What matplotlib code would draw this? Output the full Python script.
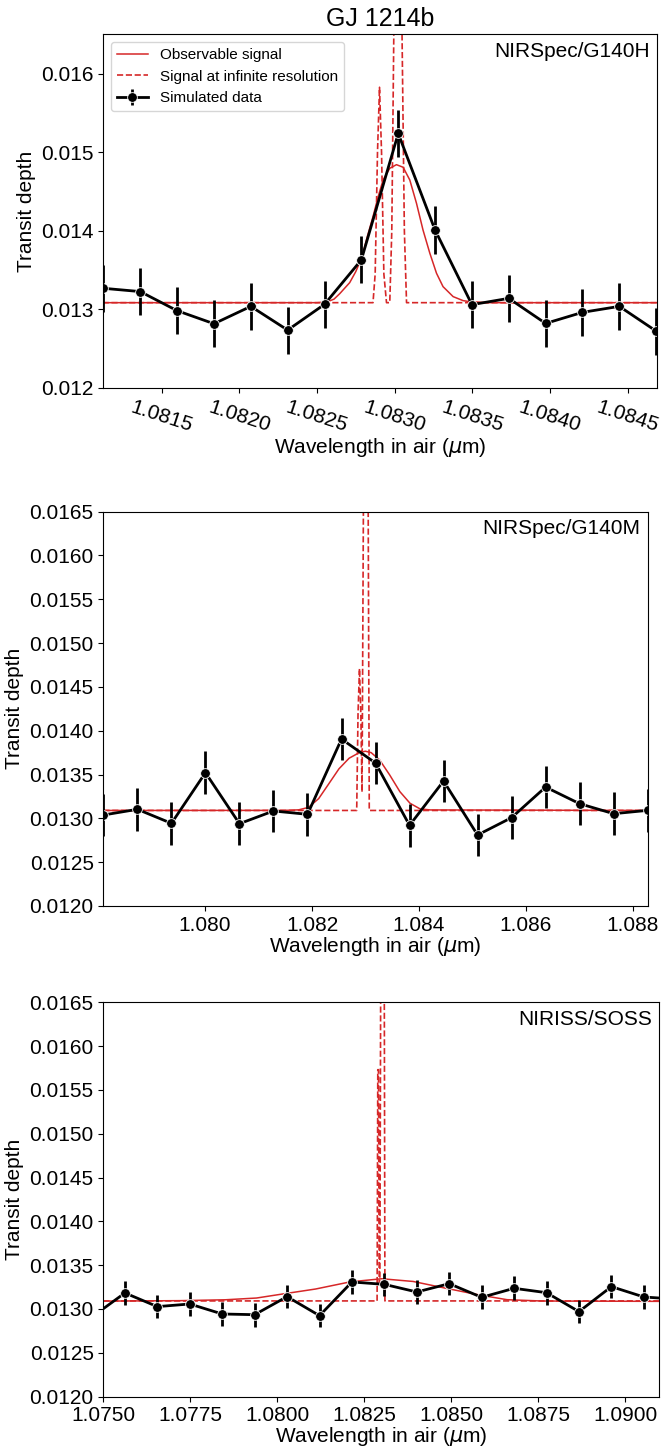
import matplotlib
matplotlib.use("Agg")
from matplotlib import pyplot as plt
from matplotlib.ticker import FormatStrFormatter
import numpy as np

plt.rcParams['font.family'] = ['Liberation Sans', 'DejaVu Sans']
plt.rcParams['mathtext.fontset'] = 'dejavusans'

# ---- NIRSpec/G140H ----
wl_h = 1.081125 + 0.0002373 * np.arange(16)
td_h = [0.013268, 0.013226, 0.012983, 0.012817, 0.013038, 0.012736, 0.013064, 0.013630,
        0.015238, 0.014009, 0.013060, 0.013140, 0.012821, 0.012962, 0.013038, 0.012723]
err_h = 0.00030

obs_wl_h = [1.08112, 1.08250, 1.082561, 1.082610, 1.082647, 1.082711, 1.082750, 1.082789,
            1.082825, 1.082861, 1.082895, 1.082926, 1.082969, 1.083012, 1.083055, 1.083098,
            1.083141, 1.083183, 1.083227, 1.083270, 1.083312, 1.083377, 1.083441, 1.083484,
            1.08360, 1.08470]
obs_td_h = [0.013085, 0.013085, 0.013092, 0.013130, 0.013200, 0.013340, 0.013480, 0.013660,
            0.013930, 0.014180, 0.014440, 0.014646, 0.014795, 0.014841, 0.014808, 0.014646,
            0.014350, 0.014010, 0.013714, 0.013459, 0.013289, 0.013162, 0.013111, 0.013098,
            0.013085, 0.013085]

inf_wl_h = [1.08112, 1.082861, 1.082875, 1.082890, 1.082903, 1.082916, 1.082931, 1.082948,
            1.082969, 1.082982, 1.082995, 1.083010, 1.083022, 1.083034, 1.083048, 1.083063,
            1.083077, 1.08470]
inf_td_h = [0.013085, 0.013085, 0.01345, 0.01500, 0.015826, 0.01500, 0.01345, 0.013085,
            0.013085, 0.01400, 0.01650, 0.01850, 0.01900, 0.01850, 0.01650, 0.01400,
            0.013085, 0.013085]

# ---- NIRSpec/G140M ----
wl_m = 1.078099 + 0.000636 * np.arange(17)
td_m = [0.013038, 0.013103, 0.012943, 0.013521, 0.012939, 0.013084, 0.013046, 0.013905,
        0.013631, 0.012920, 0.013426, 0.012810, 0.013008, 0.013357, 0.013167, 0.013053,
        0.013091]
err_m = 0.000243

obs_wl_m = [1.078099, 1.0815, 1.08175, 1.081934, 1.082124, 1.082314, 1.082503, 1.082693,
            1.082883, 1.082997, 1.083105, 1.083263, 1.083452, 1.083642, 1.083832, 1.084022,
            1.084212, 1.088276]
obs_td_m = [0.013090, 0.013091, 0.013097, 0.013125, 0.013225, 0.013395, 0.013565, 0.013686,
            0.013750, 0.013766, 0.013750, 0.013667, 0.013495, 0.013305, 0.013172, 0.013107,
            0.013096, 0.013090]

inf_wl_m = [1.078099, 1.082835, 1.082860, 1.082887, 1.082912, 1.082935, 1.082960, 1.082990,
            1.083020, 1.083050, 1.083070, 1.088276]
inf_td_m = [0.013090, 0.013090, 0.01420, 0.01471, 0.01420, 0.01330, 0.01650, 0.01850,
            0.01900, 0.01650, 0.013090, 0.013090]

# ---- NIRISS/SOSS ----
wl_s = 1.075618 + 0.000932 * np.arange(-1, 18)
td_s = [0.012913, 0.013183, 0.013027, 0.013057, 0.012943, 0.012935, 0.013141, 0.012924,
        0.013308, 0.013281, 0.013194, 0.013289, 0.013133, 0.013236, 0.013186, 0.012970,
        0.013255, 0.013137, 0.013112]
err_s = 0.000135

obs_wl_s = [1.0750, 1.0772, 1.0785, 1.0794, 1.0801, 1.0811, 1.0821, 1.0830, 1.0839, 1.0848,
            1.0858, 1.0866, 1.0876, 1.0910]
obs_td_s = [0.013090, 0.013095, 0.013105, 0.013125, 0.013168, 0.013228, 0.013310, 0.013345,
            0.013314, 0.013240, 0.013160, 0.013106, 0.013091, 0.013087]

inf_wl_s = [1.0750, 1.082865, 1.082885, 1.082905, 1.082925, 1.082945, 1.082970, 1.083027,
            1.083070, 1.083090, 1.0910]
inf_td_s = [0.013092, 0.013092, 0.01573, 0.01573, 0.01330, 0.01330, 0.01700, 0.01900,
            0.01700, 0.013092, 0.013092]

red = '#d62728'
fig = plt.figure(figsize=(6.62, 14.47), dpi=100)


def panel(rect, wl, td, err, owl, otd, iwl, itd, name, xlim, xticks, xfmt, yticks, yfmt):
    ax = fig.add_axes(rect)
    ax.plot(owl, otd, color=red, lw=1.1, label='Observable signal')
    ax.plot(iwl, itd, color=red, lw=1.2, ls='--', label='Signal at infinite resolution')
    ax.errorbar(wl, td, yerr=err, fmt='o-', color='k', lw=2, elinewidth=2, capsize=0,
                ms=7, mfc='k', mec='white', mew=0.6, label='Simulated data')
    ax.set_xlim(xlim)
    ax.set_ylim(0.012, 0.0165)
    ax.set_xticks(xticks)
    ax.set_yticks(yticks)
    ax.xaxis.set_major_formatter(FormatStrFormatter(xfmt))
    ax.yaxis.set_major_formatter(FormatStrFormatter(yfmt))
    ax.tick_params(labelsize=15)
    ax.set_xlabel(r'Wavelength in air ($\mu$m)', fontsize=15, labelpad=0)
    ax.set_ylabel('Transit depth', fontsize=15)
    ax.annotate(name, xy=(1, 1), xycoords='axes fraction', xytext=(-5.4, -5.4),
                textcoords='offset points', ha='right', va='top', fontsize=15)
    return ax


ax1 = panel([0.1562, 0.7319, 0.8363, 0.2444], wl_h, td_h, err_h, obs_wl_h, obs_td_h,
            inf_wl_h, inf_td_h, 'NIRSpec/G140H', (1.081125, 1.08469),
            np.arange(1.0815, 1.08451, 0.0005), '%.4f',
            np.arange(0.012, 0.01651, 0.001), '%.3f')
for lab in ax1.get_xticklabels():
    lab.set_rotation(-18)
ax1.set_title('GJ 1214b', fontsize=18)
ax1.legend(loc='upper left', fontsize=11)

panel([0.1562, 0.3739, 0.8222, 0.2725], wl_m, td_m, err_m, obs_wl_m, obs_td_m,
      inf_wl_m, inf_td_m, 'NIRSpec/G140M', (1.078099, 1.088276),
      np.arange(1.080, 1.0881, 0.002), '%.3f',
      np.arange(0.012, 0.01651, 0.0005), '%.4f')

panel([0.1562, 0.0348, 0.8400, 0.2726], wl_s, td_s, err_s, obs_wl_s, obs_td_s,
      inf_wl_s, inf_td_s, 'NIRISS/SOSS', (1.0750, 1.09098),
      np.arange(1.0750, 1.09001, 0.0025), '%.4f',
      np.arange(0.012, 0.01651, 0.0005), '%.4f')

fig.savefig('out.png', dpi=100)
